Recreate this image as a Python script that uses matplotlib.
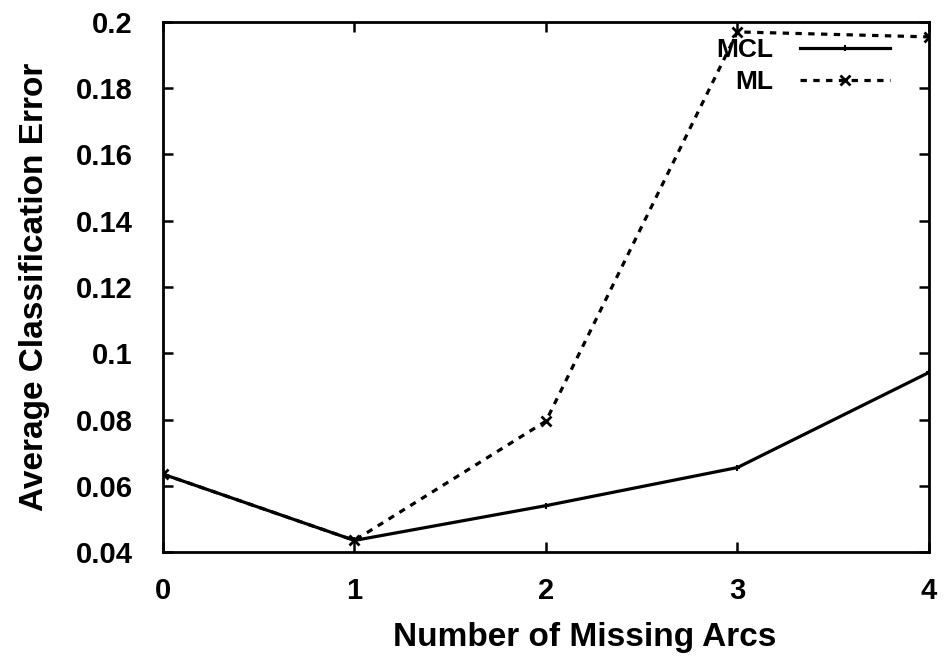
import matplotlib
matplotlib.use("Agg")
import matplotlib.pyplot as plt

# Data
missing_arcs = [0, 1, 2, 3, 4]
mcl_error = [0.0635, 0.0435, 0.054, 0.0655, 0.0942]
ml_error = [0.0635, 0.0435, 0.0795, 0.197, 0.1955]

x_ticks = [0, 1, 2, 3, 4]
y_ticks = [0.04, 0.06, 0.08, 0.1, 0.12, 0.14, 0.16, 0.18, 0.2]
y_tick_labels = ["0.04", "0.06", "0.08", "0.1", "0.12", "0.14", "0.16", "0.18", "0.2"]

plt.rcParams["font.family"] = ["Liberation Sans", "DejaVu Sans"]
plt.rcParams["font.weight"] = "bold"

fig = plt.figure(figsize=(9.44, 6.56), dpi=100, facecolor="white")
ax = fig.add_axes([0.1727, 0.1585, 0.8113, 0.808])

ax.plot(missing_arcs, mcl_error, color="black", linewidth=2.3,
        marker="+", markersize=5, markeredgewidth=1.5, label="MCL")
ax.plot(missing_arcs, ml_error, color="black", linewidth=2.3,
        linestyle=(0, (2, 2)), marker="x", markersize=7,
        markeredgewidth=2.0, label="ML")

ax.set_xlim(0, 4)
ax.set_ylim(0.04, 0.2)
ax.set_xticks(x_ticks)
ax.set_xticklabels([str(v) for v in x_ticks])
ax.set_yticks(y_ticks)
ax.set_yticklabels(y_tick_labels)

ax.tick_params(direction="in", length=7, width=1.8, labelsize=21,
               top=True, right=True)
ax.tick_params(axis="y", pad=22)
ax.tick_params(axis="x", pad=18)
for lbl in ax.get_xticklabels() + ax.get_yticklabels():
    lbl.set_fontweight("bold")
for sp in ax.spines.values():
    sp.set_linewidth(2.0)

ax.set_xlabel("Number of Missing Arcs", fontsize=24, fontweight="bold")
ax.set_ylabel("Average Classification Error", fontsize=24, fontweight="bold")
ax.xaxis.set_label_coords(0.551, -0.132)
ax.yaxis.set_label_coords(-0.148, 0.5)

leg = ax.legend(loc="upper right", bbox_to_anchor=(0.949, 0.969), frameon=False,
                markerfirst=False, fontsize=19, handlelength=3.4, borderpad=0,
                borderaxespad=0, labelspacing=0.3, handletextpad=1.0)
for t in leg.get_texts():
    t.set_fontweight("bold")
    t.set_ha("right")

fig.savefig("out.png", dpi=100, facecolor="white")
